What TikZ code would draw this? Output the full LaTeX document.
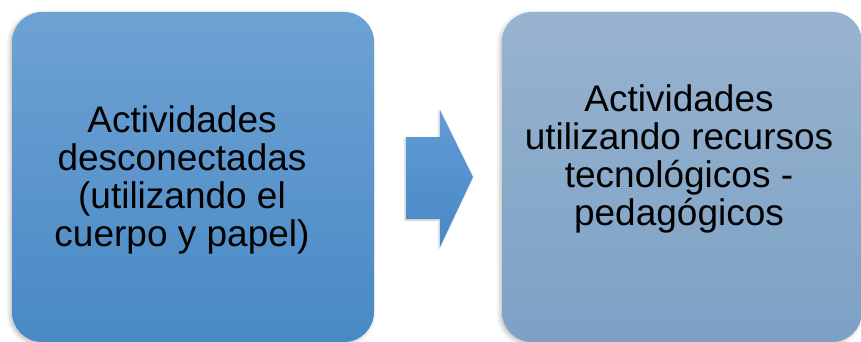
\documentclass[tikz,border=0pt]{standalone}
\usepackage{fontspec}
\setmainfont{Liberation Sans}
\usetikzlibrary{shadows.blur}
\definecolor{lbtop}{RGB}{110,162,211}
\definecolor{lbbot}{RGB}{72,137,197}
\definecolor{rbtop}{RGB}{152,179,207}
\definecolor{rbbot}{RGB}{124,161,197}
\definecolor{artop}{RGB}{96,156,214}
\definecolor{arbot}{RGB}{72,136,198}
\tikzset{
  box/.style={rounded corners=30pt, blur shadow={shadow xshift=-2pt, shadow yshift=-2pt, shadow blur radius=4pt, shadow opacity=25}},
  boxtext/.style={align=center, inner sep=0pt, font=\fontsize{37}{38}\selectfont, text=black},
}
\begin{document}
\begin{tikzpicture}[x=1pt,y=1pt]
\useasboundingbox (0,0) rectangle (861,341);
% left box
\path[box, top color=lbtop, bottom color=lbbot] (12,-1) rectangle (374,329);
% right box
\path[box, top color=rbtop, bottom color=rbbot] (502,-1) rectangle (862,329);
% arrow
\path[top color=artop, bottom color=arbot, blur shadow={shadow xshift=-1pt, shadow yshift=-1pt, shadow blur radius=2pt, shadow opacity=25}]
  (406,122) -- (440,122) -- (440,94) -- (473,164) -- (440,231) -- (440,204) -- (406,204) -- cycle;
\node[boxtext] (lt) at (182,161.5) {Actividades\\desconectadas\\(utilizando el\\cuerpo y papel)};
\node[boxtext] (rt) at (679,182) {Actividades\\utilizando recursos\\tecnológicos -\\pedagógicos};
\end{tikzpicture}
\end{document}
